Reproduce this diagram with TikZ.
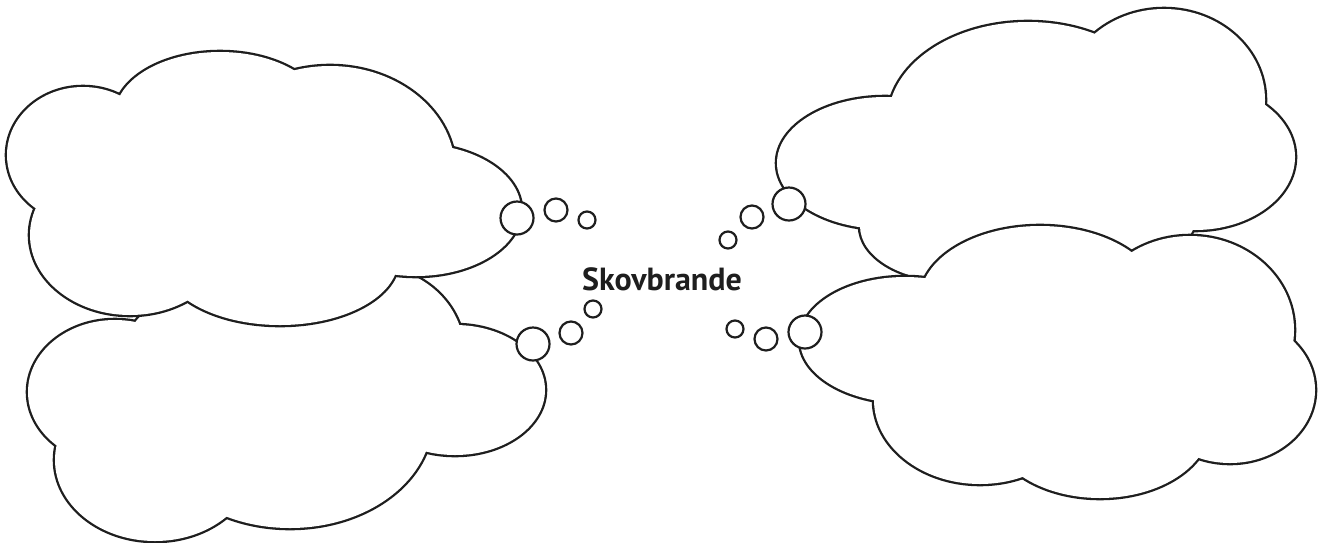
\documentclass[tikz,border=0pt]{standalone}
\usepackage{fontspec}
\setmainfont{PT Sans}
\definecolor{ink}{HTML}{1E1E1E}
\tikzset{
  lobestroke/.style={draw=ink, line width=4.6pt},
  lobefill/.style={fill=white},
  bubble/.style={circle, draw=ink, fill=white, line width=2.2pt, inner sep=0pt},
  big/.style={bubble, minimum size=33pt},
  mid/.style={bubble, minimum size=23pt},
  small/.style={bubble, minimum size=17pt},
  title/.style={text=ink, font=\bfseries\fontsize{32pt}{36pt}\selectfont, inner sep=0pt}
}
% each cloud = union of elliptical lobes (cx/cy/rx/ry, in px)
\def\BLlobes{115/392/87/72, 155/460/100/81, 290/420/142/108, 455/390/90/65, 370/352/94/86, 250/350/125/70}
\def\TLlobes{220/115/105/63, 330/170/125/104, 416/210/105/66, 280/260/118/65, 130/235/100/80, 83/155/76/68}
\def\TRlobes{885/163/108/66, 1028/120/140/98, 1164/100/101/91, 1195/157/100/73, 950/226/90/55, 1060/220/135/55}
\def\BRlobes{905/340/105/63, 1040/300/120/74, 1190/330/104/94, 1230/390/85/73, 1100/425/110/73, 980/400/106/84}
\begin{document}
\begin{tikzpicture}[x=1pt, y=-1pt]
\useasboundingbox[fill=white] (0,0) rectangle (1319,542);

% ---------- bottom-left cloud (behind) ----------
\foreach \cx/\cy/\rx/\ry in \BLlobes {\path[lobestroke] (\cx,\cy) ellipse [x radius=\rx pt, y radius=\ry pt];}
\foreach \cx/\cy/\rx/\ry in \BLlobes {\path[lobefill] (\cx,\cy) ellipse [x radius=\rx pt, y radius=\ry pt];}
\path[lobefill] (135,328) -- (250,300) -- (370,290) -- (458,330) -- (540,380) -- (426,448) -- (232,510) -- (62,446) -- (40,400) -- cycle;
\node[big]   (bl1) at (533,344) {};
\node[mid]   (bl2) at (571,333) {};
\node[small] (bl3) at (593,309) {};

% ---------- top-left cloud ----------
\foreach \cx/\cy/\rx/\ry in \TLlobes {\path[lobestroke] (\cx,\cy) ellipse [x radius=\rx pt, y radius=\ry pt];}
\foreach \cx/\cy/\rx/\ry in \TLlobes {\path[lobefill] (\cx,\cy) ellipse [x radius=\rx pt, y radius=\ry pt];}
\path[lobefill] (121,97) -- (292,74) -- (450,150) -- (518,210) -- (394,271) -- (188,297) -- (38,208) -- cycle;
\node[big]   (tl1) at (517,218) {};
\node[mid]   (tl2) at (556,210) {};
\node[small] (tl3) at (587,220) {};

% ---------- top-right cloud (behind) ----------
\foreach \cx/\cy/\rx/\ry in \TRlobes {\path[lobestroke] (\cx,\cy) ellipse [x radius=\rx pt, y radius=\ry pt];}
\foreach \cx/\cy/\rx/\ry in \TRlobes {\path[lobefill] (\cx,\cy) ellipse [x radius=\rx pt, y radius=\ry pt];}
\path[lobefill] (892,100) -- (1093,37) -- (1262,105) -- (1192,226) -- (1060,270) -- (950,275) -- (865,228) -- (790,165) -- cycle;
\node[big]   (tr1) at (789,204) {};
\node[mid]   (tr2) at (752,217) {};
\node[small] (tr3) at (728,240) {};

% ---------- bottom-right cloud ----------
\foreach \cx/\cy/\rx/\ry in \BRlobes {\path[lobestroke] (\cx,\cy) ellipse [x radius=\rx pt, y radius=\ry pt];}
\foreach \cx/\cy/\rx/\ry in \BRlobes {\path[lobefill] (\cx,\cy) ellipse [x radius=\rx pt, y radius=\ry pt];}
\path[lobefill] (925,282) -- (1131,255) -- (1290,342) -- (1198,454) -- (1025,474) -- (876,400) -- (805,335) -- cycle;
\node[big]   (br1) at (805,332) {};
\node[mid]   (br2) at (766,339) {};
\node[small] (br3) at (735,329) {};

\node[title] (topic) at (662,279) {Skovbrande};
\end{tikzpicture}
\end{document}
